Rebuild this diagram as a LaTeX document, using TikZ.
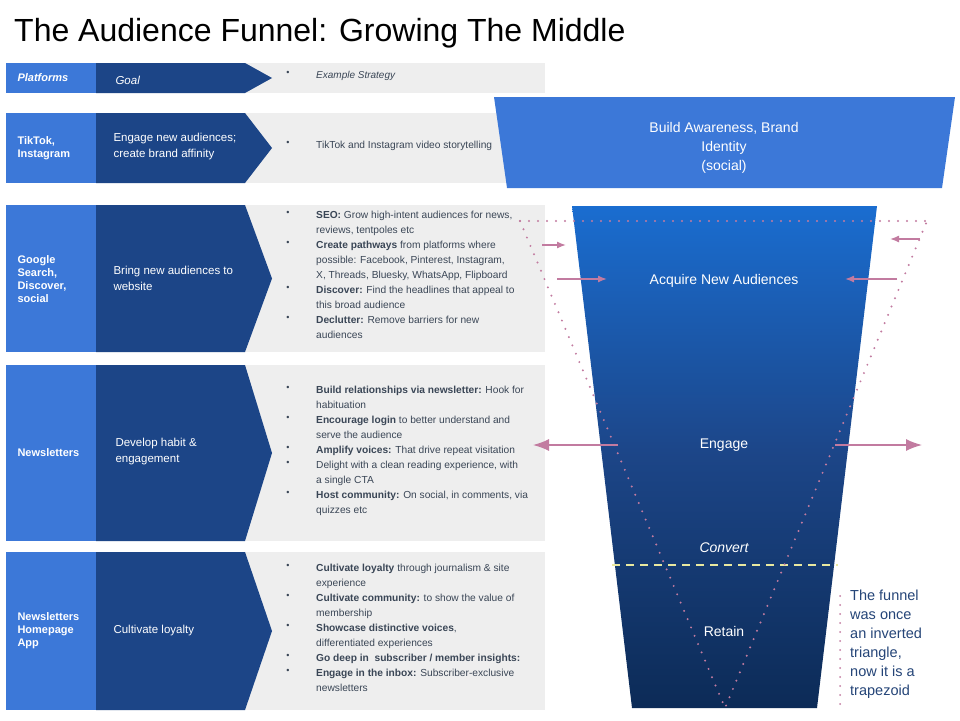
\documentclass[tikz,border=0pt]{standalone}
\usepackage{fontspec}
\setmainfont{Liberation Sans}
\usetikzlibrary{arrows.meta}
\definecolor{lb}{HTML}{3C78D8}
\definecolor{db}{HTML}{1C4587}
\definecolor{gr}{HTML}{EEEEEE}
\definecolor{tx}{HTML}{3A4656}
\definecolor{pk}{HTML}{C27BA0}
\definecolor{ftop}{HTML}{1A6DD0}
\definecolor{fbot}{HTML}{0C2B57}
\definecolor{yl}{HTML}{E8E8A0}
\begin{document}
\begin{tikzpicture}[x=1pt,y=-1pt,
  plat/.style={font=\fontsize{11}{13}\selectfont\bfseries,text=white,align=left,anchor=west},
  goal/.style={font=\fontsize{11.5}{16}\selectfont,text=white,align=left,anchor=west},
  item/.style={font=\fontsize{10.2}{15}\selectfont,text=tx,align=left,anchor=north west,inner sep=0pt},
  bul/.style={font=\fontsize{9}{15}\selectfont,text=tx,anchor=north,inner sep=0pt},
  fun/.style={font=\fontsize{14}{19}\selectfont,text=white,align=center},
  dots/.style={pk,line width=2.2pt,dash pattern=on 0pt off 9pt,line cap=round},
  parr/.style={pk,line width=1.4pt,-{Latex[length=9pt,width=7pt]}},
  darr/.style={pk,line width=1.4pt,{Latex[length=14pt,width=11pt]}-{Latex[length=14pt,width=11pt]}}]
\useasboundingbox (0,0) rectangle (960,720);
\fill[white] (0,0) rectangle (960,720);
\node[anchor=west,font=\fontsize{32}{36}\selectfont,inner sep=0pt] (title) at (14,33) {The Audience Funnel: Growing The Middle};
% rows
\foreach \t/\b [count=\i] in {63/93,113/183,205/352,365/541,552/710}{
  \fill[gr] (6,\t) rectangle (545,\b);
  \fill[lb] (6,\t) rectangle (96,\b);
  \fill[db] (96,\t) -- (245,\t) -- (272,{(\t+\b)/2}) -- (245,\b) -- (96,\b) -- cycle;
}
\node[plat,font=\fontsize{11}{13}\selectfont\bfseries\itshape] (p1) at (14,78) {Platforms};
\node[goal,font=\fontsize{11.5}{16}\selectfont\itshape] (g1) at (112,80) {Goal};
\node[bul] (b10) at (288,71) {•};
\node[item,font=\fontsize{10}{15}\selectfont\itshape] (s1) at (316,71) {Example Strategy};
\node[plat] (p2) at (14,148) {TikTok,\\Instagram};
\node[goal] (g2) at (110,147) {Engage new audiences;\\create brand affinity};
\node[bul] (b20) at (288,141) {•};
\node[item] (s2) at (316,141) {TikTok and Instagram video storytelling};
\node[plat] (p3) at (14,279) {Google\\Search,\\Discover,\\social};
\node[goal] (g3) at (110,278) {Bring new audiences to\\website};
\foreach \y in {211,241,286,316}{\node[bul] at (288,\y) {•};}
\node[item] (s3) at (316,211) {\textbf{SEO:} Grow high-intent audiences for news,\\reviews, tentpoles etc\\\textbf{Create pathways} from platforms where\\possible: Facebook, Pinterest, Instagram,\\X, Threads, Bluesky, WhatsApp, Flipboard\\\textbf{Discover:} Find the headlines that appeal to\\this broad audience\\\textbf{Declutter:} Remove barriers for new\\audiences};
\node[plat] (p4) at (14,453) {Newsletters};
\node[goal] (g4) at (112,452) {Develop habit \&\\engagement};
\foreach \y in {386,416,446,461,491}{\node[bul] at (288,\y) {•};}
\node[item] (s4) at (316,386) {\textbf{Build relationships via newsletter:} Hook for\\habituation\\\textbf{Encourage login} to better understand and\\serve the audience\\\textbf{Amplify voices:} That drive repeat visitation\\Delight with a clean reading experience, with\\a single CTA\\\textbf{Host community:} On social, in comments, via\\quizzes etc};
\node[plat] (p5) at (14,631) {Newsletters\\Homepage\\App};
\node[goal] (g5) at (110,631) {Cultivate loyalty};
\foreach \y in {564,594,624,654,669}{\node[bul] at (288,\y) {•};}
\node[item] (s5) at (316,564) {\textbf{Cultivate loyalty} through journalism \& site\\experience\\\textbf{Cultivate community:} to show the value of\\membership\\\textbf{Showcase distinctive voices},\\differentiated experiences\\\textbf{Go deep in\ \ subscriber / member insights:}\\\textbf{Engage in the inbox:} Subscriber-exclusive\\newsletters};
% funnel
\fill[lb] (494,97) -- (955,97) -- (942,188) -- (507,188) -- cycle;
\node[fun] (aw) at (724,148) {Build Awareness, Brand\\Identity\\(social)};
\shade[top color=ftop,bottom color=fbot,middle color=db] (572,206) -- (877,206) -- (817,708) -- (632,708) -- cycle;
\draw[yl,line width=1.6pt,dash pattern=on 8pt off 6pt] (612,565) -- (838,565);
\node[fun] (acq) at (724,281) {Acquire New Audiences};
\node[fun] (eng) at (724,445) {Engage};
\node[fun,font=\fontsize{14}{19}\selectfont\itshape] (conv) at (724,548) {Convert};
\node[fun] (ret) at (724,631) {Retain};
\draw[dots] (520,221) -- (927,221);
\draw[dots] (520,221) -- (725,708) -- (927,221);
\coordinate (la1) at (542,245); \coordinate (la2) at (566,245);
\coordinate (lb1) at (557,279); \coordinate (lb2) at (607,279);
\coordinate (ra1) at (920,239); \coordinate (ra2) at (890,239);
\coordinate (rb1) at (897,279); \coordinate (rb2) at (845,279);
\draw[parr] (la1) -- (la2);
\draw[parr] (lb1) -- (lb2);
\draw[parr] (ra1) -- (ra2);
\draw[parr] (rb1) -- (rb2);
\coordinate (el1) at (533,445); \coordinate (el2) at (618,445);
\coordinate (er1) at (835,445); \coordinate (er2) at (922,445);
\draw[pk,line width=1.4pt,-{Latex[length=16pt,width=12pt]}] (el2) -- (el1);
\draw[pk,line width=1.4pt,-{Latex[length=16pt,width=12pt]}] (er1) -- (er2);
\draw[dots,line width=2pt] (840,596) -- (840,712);
\node[anchor=north west,font=\fontsize{14.5}{19}\selectfont,text=db!70!tx,align=left,inner sep=0pt] (note) at (850,590) {The funnel\\was once\\an inverted\\triangle,\\now it is a\\trapezoid};
\end{tikzpicture}
\end{document}
